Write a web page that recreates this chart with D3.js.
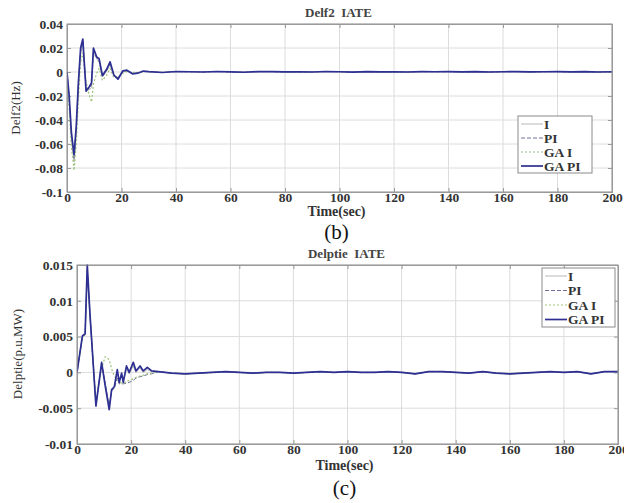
<!DOCTYPE html>
<html>
<head>
<meta charset="utf-8">
<script src="https://cdn.jsdelivr.net/npm/d3@7"></script>
<style>
  html, body { margin: 0; padding: 0; background: #fff; }
  svg { display: block; }
  svg text { font-family: "Liberation Serif", "DejaVu Serif", serif !important; }
</style>
</head>
<body>
<svg id="chart" width="624" height="503" font-family="Liberation Serif, serif"></svg>
<script>
// ---------- DATA ----------
const seriesNames = ["I", "PI", "GA I", "GA PI"];
const xTicks = [0, 20, 40, 60, 80, 100, 120, 140, 160, 180, 200];

// Panel (b): Delf2
const topYTicks = [0.04, 0.02, 0, -0.02, -0.04, -0.06, -0.08, -0.1];
const topYTickLabels = ["0.04", "0.02", "0", "-0.02", "-0.04", "-0.06", "-0.08", "-0.1"];
const topTime = [0, 0.8, 1.6, 2.6, 3.4, 4.2, 5, 5.8, 7, 8, 9, 9.7, 10.9, 11.8, 13, 14.5, 15.8, 17.2, 18.7, 20.5, 22, 24, 26, 28];
const topGAPI = [0, -0.02, -0.05, -0.069, -0.045, -0.008, 0.02, 0.0275, -0.016, -0.013, -0.009, 0.02, 0.0125, 0.011, -0.003, 0.002, 0.0085, -0.0025, -0.006, 0.001, 0.0015, -0.0015, -0.001, 0.0008];
const topGAI = [0, -0.03, -0.062, -0.082, -0.06, -0.022, 0.008, 0.016, -0.008, -0.018, -0.025, -0.01, -0.001, 0.003, -0.007, -0.003, 0.003, -0.005, -0.004, -0.001, 0.0005, -0.0008, -0.0005, 0.0003];
const topPI = [0, -0.022, -0.053, -0.072, -0.047, -0.01, 0.018, 0.026, -0.014, -0.014, -0.011, 0.018, 0.012, 0.009, -0.004, 0.001, 0.007, -0.003, -0.005, 0.0005, 0.001, -0.0012, -0.0008, 0.0005];
const topI = [0, -0.024, -0.056, -0.075, -0.05, -0.012, 0.016, 0.024, -0.012, -0.015, -0.013, 0.016, 0.011, 0.008, -0.004, 0.0005, 0.006, -0.003, -0.0045, 0, 0.001, -0.001, -0.0006, 0.0004];
// steady-state tail, t = 30..200 every 5 s
const topTail = [0.0003, -0.0004, 0.0004, 0.0002, 0.0000, 0.0004, 0.0001, -0.0002, 0.0003, 0.0003, 0.0001, 0.0002, 0.0000, 0.0004, 0.0002, -0.0001, 0.0003, 0.0001, 0.0002, 0.0000, 0.0003, 0.0002, 0.0003, 0.0001, 0.0003, 0.0000, 0.0002, 0.0003, 0.0001, 0.0002, 0.0003, 0.0001, 0.0003, 0.0000, 0.0002];

// Panel (c): Delptie
const botYTicks = [0.015, 0.01, 0.005, 0, -0.005, -0.01];
const botYTickLabels = ["0.015", "0.01", "0.005", "0", "-0.005", "-0.01"];
const botTime = [0, 2, 3, 3.8, 4.8, 7, 9.1, 10.4, 11.9, 12.8, 13.8, 14.9, 15.6, 16.5, 17.1, 18.3, 19.3, 20.8, 21.8, 23.3, 24.5, 26, 27.6];
const botGAPI = [0, 0.0051, 0.0054, 0.015, 0.0081, -0.0047, 0.0014, -0.0018, -0.0052, -0.0024, -0.002, 0.0004, -0.0014, -0.0001, -0.0014, 0.0009, 0, 0.0014, 0.0002, 0.0009, 0.0002, 0.0007, 0.0002];
const botGAI = [0, 0.0048, 0.0055, 0.0138, 0.008, -0.004, 0.0005, 0.0022, 0.0018, 0.0005, -0.0005, -0.001, -0.0013, -0.0015, -0.0015, -0.0013, -0.0011, -0.0009, -0.0007, -0.0005, -0.0004, -0.0002, -0.0001];
const botPI = [0, 0.005, 0.0053, 0.0145, 0.008, -0.0045, 0.0012, -0.0015, -0.0048, -0.0026, -0.0022, -0.0008, -0.0016, -0.0016, -0.0016, -0.0015, -0.0014, -0.0011, -0.0008, -0.0006, -0.0005, -0.0003, -0.0002];
const botI = [0, 0.005, 0.0052, 0.0142, 0.0078, -0.0044, 0.001, -0.0014, -0.0046, -0.0025, -0.002, -0.0002, -0.0012, -0.0004, -0.0011, 0.0005, -0.0002, 0.0009, 0, 0.0006, 0, 0.0004, 0.0001];
const botTail = [0.0001, -0.0001, -0.0002, -0.0001, 0.0000, 0.0001, 0.0000, -0.0001, 0.0000, 0.0000, -0.0001, 0.0000, 0.0001, 0.0000, 0.0001, 0.0000, 0.0000, 0.0001, 0.0000, -0.0002, 0.0001, 0.0001, 0.0000, -0.0001, 0.0001, -0.0001, -0.0002, -0.0001, 0.0000, 0.0001, 0.0000, 0.0001, -0.0002, 0.0001, 0.0001];

const tailTime = d3.range(30, 201, 5);

// ---------- STYLE ----------
const styles = {
  "I":     { color: "#b8b8b8", width: 1,   dash: null },
  "PI":    { color: "#6f6f9a", width: 1,   dash: "4,2" },
  "GA I":  { color: "#9cc47a", width: 1.2, dash: "2,2" },
  "GA PI": { color: "#2d2f92", width: 1.7, dash: null }
};
const SERIF = "Liberation Serif, DejaVu Serif, serif";

const svg = d3.select("#chart");

function buildSeries(time, vals, tail) {
  const pts = time.map((t, i) => ({ t, v: vals[i] }));
  tailTime.forEach((t, i) => pts.push({ t, v: tail[i] }));
  return pts;
}

function drawPanel(cfg) {
  const g = svg.append("g").attr("font-family", SERIF);
  const x = d3.scaleLinear().domain([0, 200]).range([cfg.left, cfg.right]);
  const y = d3.scaleLinear().domain(cfg.yDomain).range([cfg.bottom, cfg.top]);

  // grid
  g.append("g").selectAll("line").data(xTicks).join("line")
    .attr("x1", d => x(d)).attr("x2", d => x(d))
    .attr("y1", cfg.top).attr("y2", cfg.bottom)
    .attr("stroke", "#dcdcdc").attr("stroke-width", 1);
  g.append("g").selectAll("line").data(cfg.yTicks).join("line")
    .attr("x1", cfg.left).attr("x2", cfg.right)
    .attr("y1", d => y(d)).attr("y2", d => y(d))
    .attr("stroke", "#dcdcdc").attr("stroke-width", 1);

  // axes with inward ticks
  const xAxis = d3.axisBottom(x).tickValues(xTicks).tickSize(-4).tickPadding(0).tickFormat(d3.format("d"));
  const xa = g.append("g").attr("transform", `translate(0,${cfg.bottom})`).call(xAxis);
  const yAxis = d3.axisLeft(y).tickValues(cfg.yTicks).tickSize(-4).tickPadding(4)
    .tickFormat((d, i) => cfg.yTickLabels[i]);
  const ya = g.append("g").attr("transform", `translate(${cfg.left},0)`).call(yAxis);
  const xTop = g.append("g").attr("transform", `translate(0,${cfg.top})`)
    .call(d3.axisTop(x).tickValues(xTicks).tickSize(-4).tickFormat(""));
  const yRight = g.append("g").attr("transform", `translate(${cfg.right},0)`)
    .call(d3.axisRight(y).tickValues(cfg.yTicks).tickSize(-4).tickFormat(""));
  [xa, ya, xTop, yRight].forEach(a => {
    a.attr("font-family", SERIF).attr("font-size", 13.5);
    a.select(".domain").attr("stroke", "#9a9a9a");
    a.selectAll(".tick line").attr("stroke", "#9a9a9a");
    a.selectAll(".tick text").attr("fill", "#333").attr("font-weight", "bold");
  });

  // lines
  const line = d3.line().x(d => x(d.t)).y(d => y(d.v));
  const clipId = "clip" + cfg.id;
  svg.append("clipPath").attr("id", clipId).append("rect")
    .attr("x", cfg.left).attr("y", cfg.top - 2)
    .attr("width", cfg.right - cfg.left).attr("height", cfg.bottom - cfg.top + 4);
  const lg = g.append("g").attr("clip-path", `url(#${clipId})`);
  seriesNames.forEach(name => {
    const st = styles[name];
    lg.append("path").datum(cfg.data[name]).attr("d", line)
      .attr("fill", "none").attr("stroke", st.color)
      .attr("stroke-width", st.width)
      .attr("stroke-dasharray", st.dash)
      .attr("stroke-linejoin", "round");
  });

  // frame
  g.append("rect").attr("x", cfg.left).attr("y", cfg.top)
    .attr("width", cfg.right - cfg.left).attr("height", cfg.bottom - cfg.top)
    .attr("fill", "none").attr("stroke", "#9a9a9a").attr("stroke-width", 1);

  const cx = (cfg.left + cfg.right) / 2;
  // title
  g.append("text").attr("x", cx - 1).attr("y", cfg.top - 7).attr("text-anchor", "middle")
    .attr("fill", "#444").attr("font-size", 13).attr("font-weight", "bold")
    .attr("xml:space", "preserve").style("white-space", "pre")
    .text(cfg.title);
  // x label
  g.append("text").attr("x", cx - 3).attr("y", cfg.xLabelY).attr("text-anchor", "middle")
    .attr("fill", "#333").attr("font-size", 14).attr("font-weight", "bold")
    .text("Time(sec)");
  // y label
  g.append("text").attr("transform", `translate(${cfg.yLabelX},${cfg.yLabelY}) rotate(-90)`)
    .attr("text-anchor", "middle").attr("fill", "#333").attr("font-size", 13)
    .text(cfg.yLabel);
  // panel letter
  g.append("text").attr("x", cx - 3).attr("y", cfg.letterY).attr("text-anchor", "middle")
    .attr("fill", "#111").attr("font-size", 21).text(cfg.letter);

  // legend
  const L = cfg.legend;
  const lgd = g.append("g");
  lgd.append("rect").attr("x", L.x).attr("y", L.y).attr("width", L.w).attr("height", L.h)
    .attr("fill", "#fff").attr("stroke", "#8a8a8a").attr("stroke-width", 1);
  seriesNames.forEach((name, i) => {
    const st = styles[name];
    const yy = L.y + L.pad + i * L.step;
    lgd.append("line").attr("x1", L.x + 3).attr("x2", L.x + 25).attr("y1", yy).attr("y2", yy)
      .attr("stroke", st.color).attr("stroke-width", st.width).attr("stroke-dasharray", st.dash);
    lgd.append("text").attr("x", L.x + 26).attr("y", yy + 4.5).attr("fill", "#333")
      .attr("font-size", 13.5).attr("font-weight", "bold").text(name);
  });
}

const topData = {
  "I": buildSeries(topTime, topI, topTail),
  "PI": buildSeries(topTime, topPI, topTail),
  "GA I": buildSeries(topTime, topGAI, topTail),
  "GA PI": buildSeries(topTime, topGAPI, topTail)
};
const botData = {
  "I": buildSeries(botTime, botI, botTail),
  "PI": buildSeries(botTime, botPI, botTail),
  "GA I": buildSeries(botTime, botGAI, botTail),
  "GA PI": buildSeries(botTime, botGAPI, botTail)
};

drawPanel({
  id: "b", left: 67, right: 612, top: 24, bottom: 192,
  yDomain: [-0.1, 0.04], yTicks: topYTicks, yTickLabels: topYTickLabels,
  data: topData, title: "Delf2  IATE", yLabel: "Delf2(Hz)", yLabelX: 20, yLabelY: 108,
  xLabelY: 215.5, letter: "(b)", letterY: 239,
  legend: { x: 518, y: 116, w: 74, h: 57, pad: 8, step: 14 }
});
drawPanel({
  id: "c", left: 77, right: 618, top: 265, bottom: 444,
  yDomain: [-0.01, 0.015], yTicks: botYTicks, yTickLabels: botYTickLabels,
  data: botData, title: "Delptie  IATE", yLabel: "Delptie(p.u.MW)", yLabelX: 22, yLabelY: 354,
  xLabelY: 469.5, letter: "(c)", letterY: 495,
  legend: { x: 542, y: 268, w: 73, h: 59, pad: 8, step: 14.5 }
});
</script>
</body>
</html>
